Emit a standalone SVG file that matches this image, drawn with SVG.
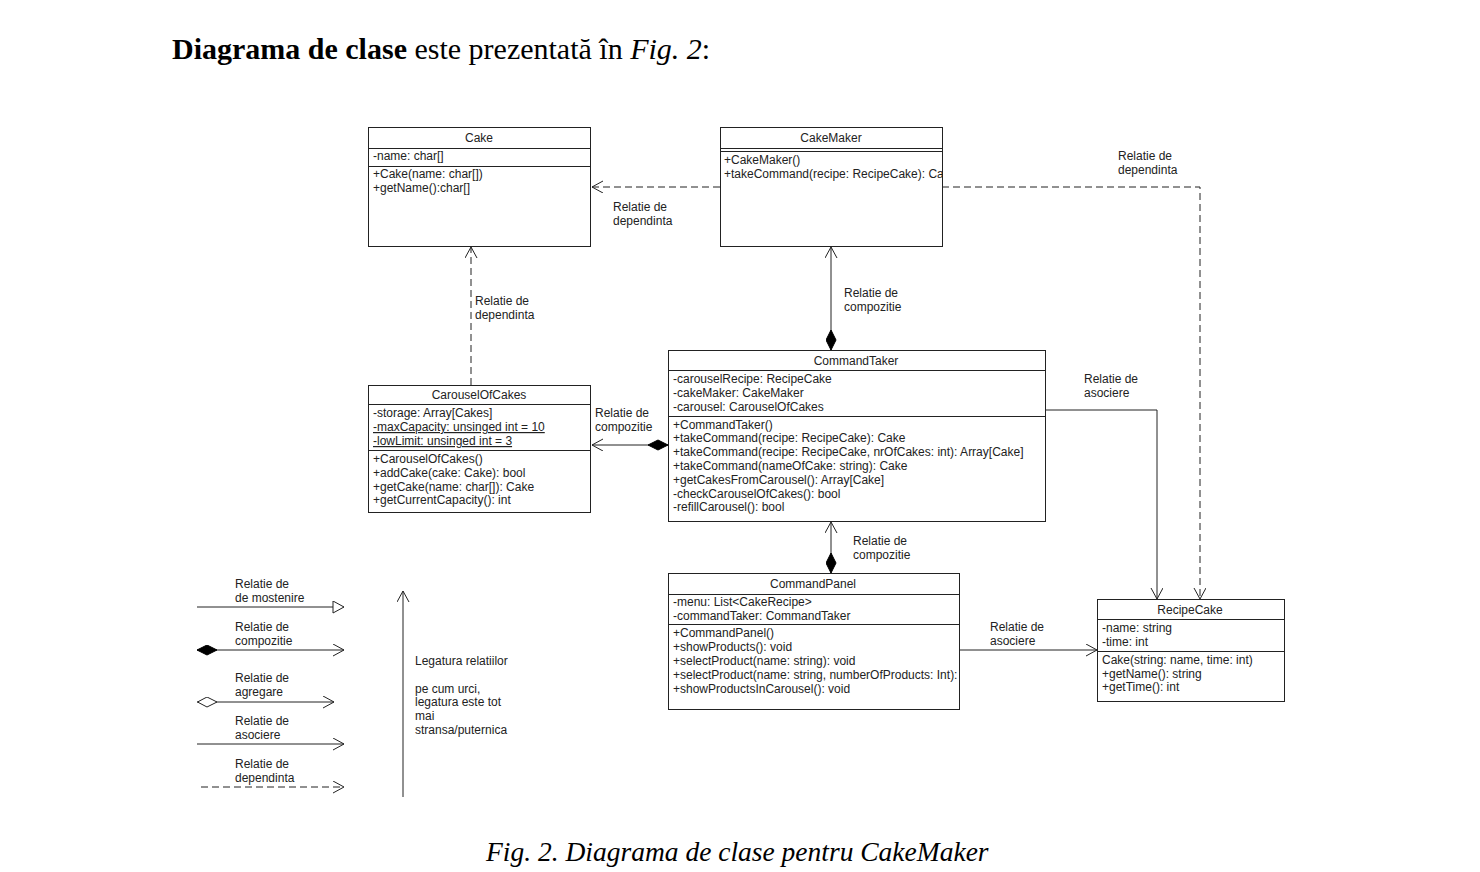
<svg xmlns="http://www.w3.org/2000/svg" width="1480" height="872" viewBox="0 0 1480 872">
<style>
.t{font-family:"Liberation Sans",Arial,sans-serif;font-size:12px;fill:#222}
.c{text-anchor:middle}
.u{text-decoration:underline}
.box{fill:#fff;stroke:#222;stroke-width:1}
.dv{stroke:#222;stroke-width:1}
.ln{fill:none;stroke:#222;stroke-width:1}
.ds{stroke-dasharray:7,4}
.ser{font-family:"Liberation Serif","Times New Roman",serif;fill:#000}
</style>
<defs>
<marker id="arr" markerUnits="userSpaceOnUse" markerWidth="14" markerHeight="14" refX="11" refY="6" orient="auto" viewBox="0 0 14 14"><path d="M0,0 L11,6 L0,12" fill="none" stroke="#222" stroke-width="1"/></marker>
<marker id="tri" markerUnits="userSpaceOnUse" markerWidth="14" markerHeight="14" refX="12" refY="6" orient="auto" viewBox="0 0 14 14"><path d="M1,0 L12,6 L1,12 Z" fill="#fff" stroke="#222" stroke-width="1"/></marker>
<marker id="dia" markerUnits="userSpaceOnUse" markerWidth="22" markerHeight="12" refX="0" refY="5.5" orient="auto" viewBox="0 0 22 12"><path d="M0,5.5 L10,0.5 L20,5.5 L10,10.5 Z" fill="#000" stroke="#000" stroke-width="1"/></marker>
<marker id="odia" markerUnits="userSpaceOnUse" markerWidth="22" markerHeight="12" refX="0" refY="5.5" orient="auto" viewBox="0 0 22 12"><path d="M0.5,5.5 L10,0.5 L20,5.5 L10,10.5 Z" fill="#fff" stroke="#222" stroke-width="1"/></marker>
<clipPath id="cmclip"><rect x="720" y="127" width="222" height="119"/></clipPath>
</defs>
<rect width="1480" height="872" fill="#fff"/>

<text class="ser" x="172" y="59" font-size="30"><tspan font-weight="bold">Diagrama de clase</tspan> este prezentată în <tspan font-style="italic">Fig. 2</tspan>:</text>

<g id="connectors">
<path class="ln ds" d="M720,187 H592" marker-end="url(#arr)"/>
<path class="ln ds" d="M942,187 H1200 V599" marker-end="url(#arr)"/>
<path class="ln ds" d="M471,385 V247" marker-end="url(#arr)"/>
<path class="ln" d="M831,350 V247" marker-start="url(#dia)" marker-end="url(#arr)"/>
<path class="ln" d="M668,445 H592" marker-start="url(#dia)" marker-end="url(#arr)"/>
<path class="ln" d="M1045,410 H1157 V599" marker-end="url(#arr)"/>
<path class="ln" d="M831,573 V522" marker-start="url(#dia)" marker-end="url(#arr)"/>
<path class="ln" d="M959,650 H1097" marker-end="url(#arr)"/>
<text class="t" x="613" y="211">Relatie de</text><text class="t" x="613" y="225">dependinta</text>
<text class="t" x="1118" y="160">Relatie de</text><text class="t" x="1118" y="174">dependinta</text>
<text class="t" x="475" y="305">Relatie de</text><text class="t" x="475" y="319">dependinta</text>
<text class="t" x="844" y="297">Relatie de</text><text class="t" x="844" y="311">compozitie</text>
<text class="t" x="595" y="417">Relatie de</text><text class="t" x="595" y="431">compozitie</text>
<text class="t" x="1084" y="383">Relatie de</text><text class="t" x="1084" y="397">asociere</text>
<text class="t" x="853" y="545">Relatie de</text><text class="t" x="853" y="559">compozitie</text>
<text class="t" x="990" y="631">Relatie de</text><text class="t" x="990" y="645">asociere</text>
</g>

<g id="Cake">
<rect class="box" x="368.5" y="127.5" width="222" height="119"/>
<line class="dv" x1="368" y1="148.5" x2="590" y2="148.5"/>
<line class="dv" x1="368" y1="166.5" x2="590" y2="166.5"/>
<text class="t c" x="479" y="142">Cake</text>
<text class="t" x="373" y="160">-name: char[]</text>
<text class="t" x="373" y="178">+Cake(name: char[])</text>
<text class="t" x="373" y="192">+getName():char[]</text>
</g>

<g id="CakeMaker">
<rect class="box" x="720.5" y="127.5" width="222" height="119"/>
<line class="dv" x1="720" y1="148.5" x2="942" y2="148.5"/>
<line class="dv" x1="720" y1="151.5" x2="942" y2="151.5"/>
<text class="t c" x="831" y="142">CakeMaker</text>
<g clip-path="url(#cmclip)">
<text class="t" x="724" y="164">+CakeMaker()</text>
<text class="t" x="724" y="178">+takeCommand(recipe: RecipeCake): Ca</text>
</g>
</g>

<g id="CarouselOfCakes">
<rect class="box" x="368.5" y="385.5" width="222" height="127"/>
<line class="dv" x1="368" y1="404.5" x2="590" y2="404.5"/>
<line class="dv" x1="368" y1="450.5" x2="590" y2="450.5"/>
<text class="t c" x="479" y="399">CarouselOfCakes</text>
<text class="t" x="373" y="417">-storage: Array[Cakes]</text>
<text class="t u" x="373" y="431">-maxCapacity: unsinged int = 10</text>
<text class="t u" x="373" y="445">-lowLimit: unsinged int = 3</text>
<text class="t" x="373" y="463">+CarouselOfCakes()</text>
<text class="t" x="373" y="477">+addCake(cake: Cake): bool</text>
<text class="t" x="373" y="491">+getCake(name: char[]): Cake</text>
<text class="t" x="373" y="504">+getCurrentCapacity(): int</text>
</g>

<g id="CommandTaker">
<rect class="box" x="668.5" y="350.5" width="377" height="171"/>
<line class="dv" x1="668" y1="370.5" x2="1045" y2="370.5"/>
<line class="dv" x1="668" y1="416.5" x2="1045" y2="416.5"/>
<text class="t c" x="856" y="365">CommandTaker</text>
<text class="t" x="673" y="383">-carouselRecipe: RecipeCake</text>
<text class="t" x="673" y="397">-cakeMaker: CakeMaker</text>
<text class="t" x="673" y="411">-carousel: CarouselOfCakes</text>
<text class="t" x="673" y="429">+CommandTaker()</text>
<text class="t" x="673" y="442">+takeCommand(recipe: RecipeCake): Cake</text>
<text class="t" x="673" y="456">+takeCommand(recipe: RecipeCake, nrOfCakes: int): Array[Cake]</text>
<text class="t" x="673" y="470">+takeCommand(nameOfCake: string): Cake</text>
<text class="t" x="673" y="484">+getCakesFromCarousel(): Array[Cake]</text>
<text class="t" x="673" y="498">-checkCarouselOfCakes(): bool</text>
<text class="t" x="673" y="511">-refillCarousel(): bool</text>
</g>

<g id="CommandPanel">
<rect class="box" x="668.5" y="573.5" width="291" height="136"/>
<line class="dv" x1="668" y1="594.5" x2="959" y2="594.5"/>
<line class="dv" x1="668" y1="624.5" x2="959" y2="624.5"/>
<text class="t c" x="813" y="588">CommandPanel</text>
<text class="t" x="673" y="606">-menu: List&lt;CakeRecipe&gt;</text>
<text class="t" x="673" y="620">-commandTaker: CommandTaker</text>
<text class="t" x="673" y="637">+CommandPanel()</text>
<text class="t" x="673" y="651">+showProducts(): void</text>
<text class="t" x="673" y="665">+selectProduct(name: string): void</text>
<text class="t" x="673" y="679">+selectProduct(name: string, numberOfProducts: Int):</text>
<text class="t" x="673" y="693">+showProductsInCarousel(): void</text>
</g>

<g id="RecipeCake">
<rect class="box" x="1097.5" y="599.5" width="187" height="102"/>
<line class="dv" x1="1097" y1="619.5" x2="1284" y2="619.5"/>
<line class="dv" x1="1097" y1="651.5" x2="1284" y2="651.5"/>
<text class="t c" x="1190" y="614">RecipeCake</text>
<text class="t" x="1102" y="632">-name: string</text>
<text class="t" x="1102" y="646">-time: int</text>
<text class="t" x="1102" y="664">Cake(string: name, time: int)</text>
<text class="t" x="1102" y="678">+getName(): string</text>
<text class="t" x="1102" y="691">+getTime(): int</text>
</g>

<g id="legend">
<text class="t" x="235" y="588">Relatie de</text><text class="t" x="235" y="602">de mostenire</text>
<path class="ln" d="M197,607 H344" marker-end="url(#tri)"/>
<text class="t" x="235" y="631">Relatie de</text><text class="t" x="235" y="645">compozitie</text>
<path class="ln" d="M197,650 H344" marker-start="url(#dia)" marker-end="url(#arr)"/>
<text class="t" x="235" y="682">Relatie de</text><text class="t" x="235" y="696">agregare</text>
<path class="ln" d="M197,702 H334" marker-start="url(#odia)" marker-end="url(#arr)"/>
<text class="t" x="235" y="725">Relatie de</text><text class="t" x="235" y="739">asociere</text>
<path class="ln" d="M197,744 H344" marker-end="url(#arr)"/>
<text class="t" x="235" y="768">Relatie de</text><text class="t" x="235" y="782">dependinta</text>
<path class="ln ds" d="M201,787 H344" marker-end="url(#arr)"/>
<path class="ln" d="M403,797 V591" marker-end="url(#arr)"/>
<text class="t" x="415" y="665">Legatura relatiilor</text>
<text class="t" x="415" y="693">pe cum urci,</text>
<text class="t" x="415" y="706">legatura este tot</text>
<text class="t" x="415" y="720">mai</text>
<text class="t" x="415" y="734">stransa/puternica</text>
</g>

<text class="ser" x="486" y="861" font-size="27.5" font-style="italic">Fig. 2. Diagrama de clase pentru CakeMaker</text>
</svg>
